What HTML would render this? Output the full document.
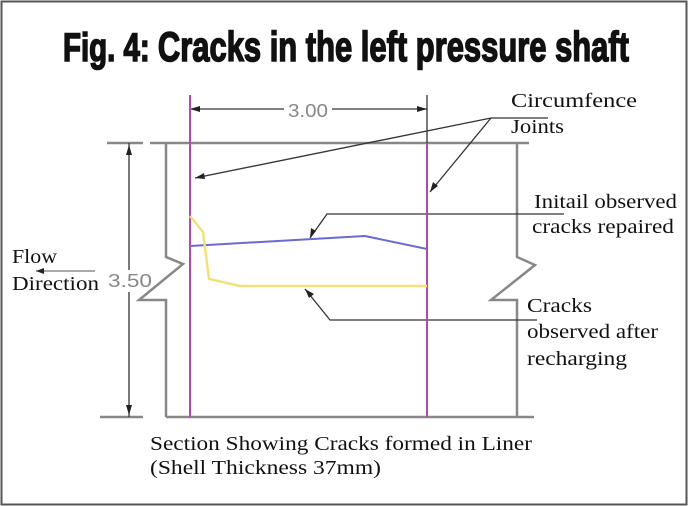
<!DOCTYPE html>
<html><head><meta charset="utf-8"><style>
html,body{margin:0;padding:0;background:#fff;}
svg{display:block;}
</style></head><body>
<svg width="688" height="506" viewBox="0 0 688 506" xmlns="http://www.w3.org/2000/svg">
<rect x="1.5" y="1.5" width="685" height="503" fill="#fff" stroke="#555" stroke-width="2"/>
<text x="63" y="61" font-family="Liberation Sans Narrow, Liberation Sans, sans-serif" font-weight="bold" font-size="40" textLength="566" lengthAdjust="spacingAndGlyphs" fill="#111" stroke="#111" stroke-width="1.6">Fig. 4: <tspan font-size="42">Cracks in the left pressure shaft</tspan></text>

<g stroke="#888" stroke-width="2.5" fill="none">
<line x1="107" y1="143" x2="143" y2="143"/>
<line x1="150" y1="143" x2="529" y2="143"/>
<line x1="100" y1="417" x2="143" y2="417"/>
<line x1="166" y1="417" x2="534" y2="417"/>
<polyline points="166,143 166,257 183,264 139,300 166,300 166,417"/>
<polyline points="517,143 517,257 535,265 491,300 517,300 517,417"/>
</g>
<g stroke="#333" stroke-width="1.3" fill="none">
<line x1="190" y1="95" x2="190" y2="143"/>
<line x1="427" y1="95" x2="427" y2="143"/>
<line x1="190" y1="109" x2="284" y2="109"/>
<line x1="332" y1="109" x2="427" y2="109"/>
<line x1="129" y1="143" x2="129" y2="270"/>
<line x1="129" y1="292" x2="129" y2="417"/>
<polyline points="195,178 491,118 548,118"/>
<line x1="491" y1="118" x2="430" y2="192"/>
<polyline points="310,238 327,214 564,214"/>
<polyline points="305,289 330,320 537,320"/>
<line x1="36" y1="271" x2="95" y2="271" stroke="#777"/>
</g>
<g fill="#222">
<polygon points="190,109 200,106 200,112"/>
<polygon points="427,109 417,106 417,112"/>
<polygon points="129,145 126,155 132,155"/>
<polygon points="129,415 126,405 132,405"/>
<polygon points="195,178 204,173 205,179"/>
<polygon points="430,192 433,182 438,186"/>
<polygon points="310,238 311,228 316,231"/>
<polygon points="305,289 314,294 309,298"/>
<polygon points="36,271 44,268 44,274"/>
</g>
<line x1="190" y1="95" x2="190" y2="417" stroke="#b04aa8" stroke-width="2"/>
<line x1="427" y1="143" x2="427" y2="417" stroke="#b04aa8" stroke-width="2"/>
<polyline points="190,246 365,236 427,249" fill="none" stroke="#6a6ad0" stroke-width="2"/>
<polyline points="190,216 203,232 209,279 240,286 427,286" fill="none" stroke="#f4e07a" stroke-width="2.5"/>

<g font-family="Liberation Sans, sans-serif" fill="#888" font-size="18">
<text x="288" y="117" textLength="40" lengthAdjust="spacingAndGlyphs">3.00</text>
<text x="108" y="287" textLength="44" lengthAdjust="spacingAndGlyphs">3.50</text>
</g>
<g font-family="Liberation Serif, serif" fill="#111" font-size="20">
<text x="511" y="107" textLength="126" lengthAdjust="spacingAndGlyphs">Circumfence</text>
<text x="511" y="133" textLength="53" lengthAdjust="spacingAndGlyphs">Joints</text>
<text x="534" y="208" textLength="143" lengthAdjust="spacingAndGlyphs">Initail observed</text>
<text x="532" y="233" textLength="142" lengthAdjust="spacingAndGlyphs">cracks repaired</text>
<text x="527" y="312" textLength="65" lengthAdjust="spacingAndGlyphs">Cracks</text>
<text x="527" y="338" textLength="131" lengthAdjust="spacingAndGlyphs">observed after</text>
<text x="527" y="365" textLength="100" lengthAdjust="spacingAndGlyphs">recharging</text>
<text x="12" y="263" textLength="45" lengthAdjust="spacingAndGlyphs">Flow</text>
<text x="12" y="290" textLength="87" lengthAdjust="spacingAndGlyphs">Direction</text>
<text x="150" y="450" textLength="382" lengthAdjust="spacingAndGlyphs">Section Showing Cracks formed in Liner</text>
<text x="150" y="474" textLength="231" lengthAdjust="spacingAndGlyphs">(Shell Thickness 37mm)</text>
</g>
</svg>
</body></html>
